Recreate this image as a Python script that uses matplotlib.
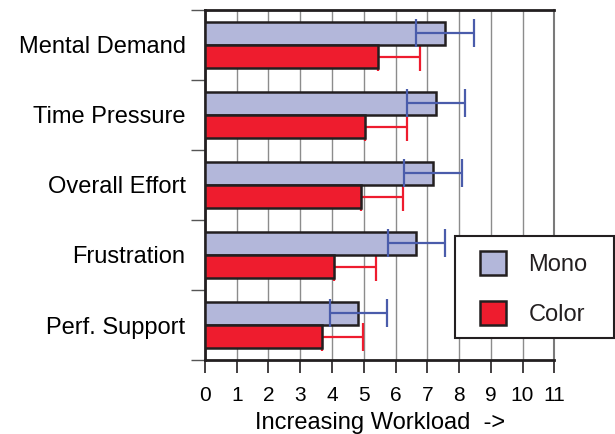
import numpy as np
import matplotlib
matplotlib.use('Agg')
import matplotlib.pyplot as plt
from matplotlib import rcParams
from matplotlib.patches import Rectangle

rcParams['font.family'] = ['Liberation Sans', 'DejaVu Sans']
rcParams['text.color'] = '#231f20'

# data
categories = ['Mental Demand', 'Time Pressure', 'Overall Effort', 'Frustration', 'Perf. Support']
mono_mean = [7.56, 7.28, 7.19, 6.65, 4.83]
mono_err = [0.92, 0.91, 0.91, 0.90, 0.90]
color_mean = [5.46, 5.04, 4.91, 4.07, 3.67]
color_err = [1.31, 1.31, 1.31, 1.31, 1.30]
xticks = list(range(0, 12))

mono_fill = '#b3b7da'
mono_line = '#4a5cab'
red_fill = '#ee1c2e'
ink = '#231f20'

fig = plt.figure(figsize=(6.15, 4.34), dpi=100)
ax = fig.add_axes([0.3333, 0.1705, 0.5680, 0.8065])

y = np.arange(len(categories))
h = 0.33
off = 0.17

ax.barh(y - off, mono_mean, height=h, color=mono_fill, edgecolor=ink,
        linewidth=1.8, zorder=3, label='Mono')
ax.barh(y + off, color_mean, height=h, color=red_fill, edgecolor=ink,
        linewidth=1.8, zorder=3, label='Color')
ax.errorbar(mono_mean, y - off, xerr=mono_err, fmt='none', ecolor=mono_line,
            elinewidth=1.6, capsize=10, capthick=1.6, zorder=4)
# the lower half of the red bars' error is hidden by the bar itself
ax.errorbar(color_mean, y + off, xerr=[np.zeros(len(color_err)), color_err], fmt='none',
            ecolor=red_fill, elinewidth=1.6, capsize=10, capthick=1.6, zorder=2.5)

ax.set_xlim(0, 11)
ax.set_ylim(len(categories) - 0.5, -0.5)
ax.set_xticks(xticks)
ax.set_xticklabels([str(t) for t in xticks], fontsize=15)
ax.xaxis.grid(True, color='#8c8c8c', linewidth=1.0, zorder=0)
ax.set_axisbelow(True)

# category labels in the middle, tick marks on the boundaries
ax.set_yticks(y)
ax.set_yticklabels(categories, fontsize=17)
ax.tick_params(axis='y', which='major', length=0, pad=14)
ax.set_yticks(np.arange(len(categories) + 1) - 0.5, minor=True)
ax.tick_params(axis='y', which='minor', length=10, width=1.0, color='#555555')
ax.tick_params(axis='x', length=9.5, width=1.2, color=ink, pad=9)

for s in ['left', 'top', 'bottom']:
    ax.spines[s].set_linewidth(2.0)
    ax.spines[s].set_color(ink)
ax.spines['right'].set_linewidth(1.5)
ax.spines['right'].set_color('#7a7a7a')

ax.set_xlabel('Increasing Workload  ->', fontsize=17, labelpad=5)

# legend box drawn on its own, entries placed inside it
box = Rectangle((0.7398, 0.2212), 0.2585, 0.235, transform=fig.transFigure,
                facecolor='white', edgecolor=ink, linewidth=1.5, zorder=5, clip_on=False)
ax.add_artist(box)
leg = ax.legend(loc='upper left', bbox_to_anchor=(0.7805, 0.421),
                bbox_transform=fig.transFigure, borderaxespad=0,
                fontsize=17, handlelength=1.1, handleheight=1.2,
                labelspacing=1.05, handletextpad=0.95, borderpad=0,
                frameon=False)
leg.set_zorder(6)

fig.savefig('out.png', dpi=100)
